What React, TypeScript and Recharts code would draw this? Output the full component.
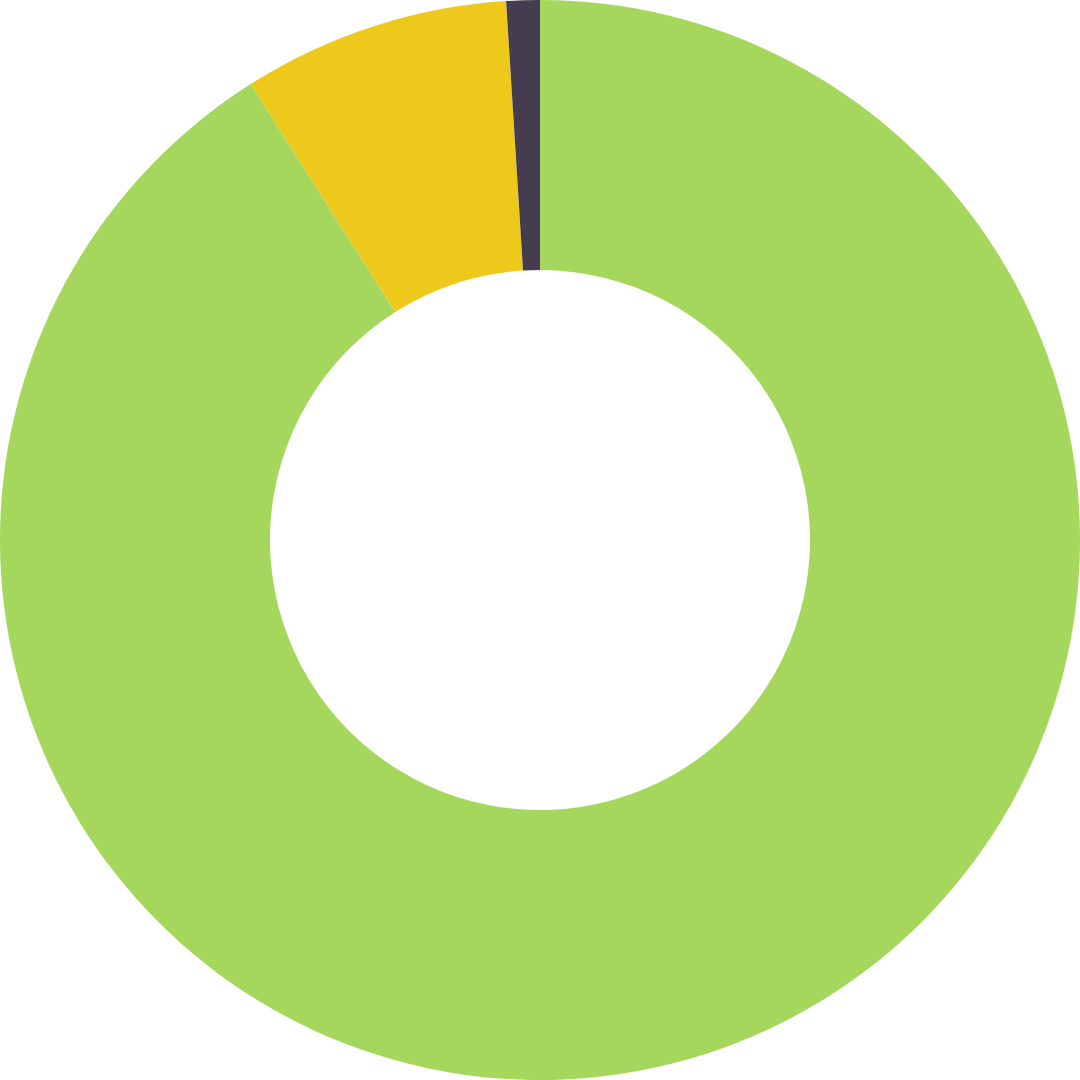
import { PieChart, Pie, Cell } from 'recharts';

const categories = ['A', 'B', 'C'];
const values = [91, 8, 1];
const colors = ['#A6D75D', '#EDC91C', '#463C4F'];

const data = categories.map((name, i) => ({ name, value: values[i] }));

export default function App() {
  return (
    <div style={{ position: 'absolute', left: 0, top: 0, width: 1080, height: 1080, background: '#fff' }}>
      <PieChart width={1080} height={1080} margin={{ top: 0, right: 0, bottom: 0, left: 0 }}>
        <Pie
          data={data}
          dataKey="value"
          cx={540}
          cy={540}
          innerRadius={270}
          outerRadius={540}
          startAngle={90}
          endAngle={-270}
          stroke="none"
          isAnimationActive={false}
        >
          {data.map((d, i) => (
            <Cell key={d.name} fill={colors[i]} />
          ))}
        </Pie>
      </PieChart>
    </div>
  );
}
